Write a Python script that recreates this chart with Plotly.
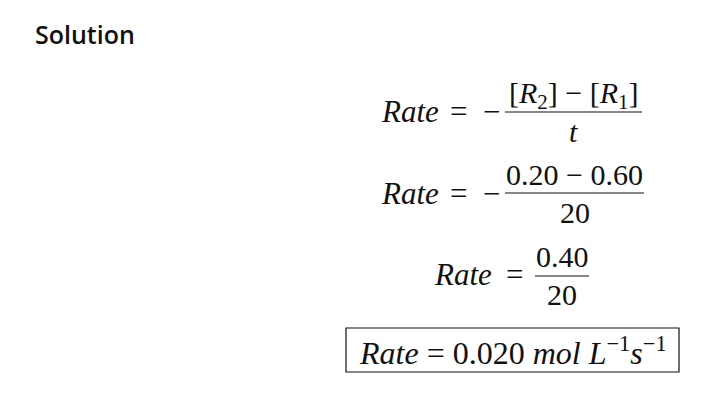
import plotly.graph_objects as go

# text of the worked solution, one entry per equation line
heading = "Solution"
lhs_labels = ["Rate", "Rate", "Rate"]
signs = ["−", "−", ""]
numerators = ["[<i>R</i><sub>2</sub>] − [<i>R</i><sub>1</sub>]", "0.20 − 0.60", "0.40"]
denominators = ["<i>t</i>", "20", "20"]
answer = "<i>Rate</i> = 0.020 <i>mol</i> <i>L</i><sup>−1</sup><i>s</i><sup>−1</sup>"

# layout of each line in page pixels (x from left, y from top)
rate_right = [441, 441, 494]
eq_x = [458, 458, 514]
sign_x = [491, 491, None]
frac_x = [(505, 642), (505, 644), (535, 589)]
frac_y = [112, 193, 276]
line_mid = [111, 193, 274]
num_mid = [95, 174, 256]
den_mid = [131, 212, 294]

MATH = "Liberation Serif"
INK = "#111111"
BG = "#ffffff"

fig = go.Figure()
fig.add_trace(go.Scatter(x=[8, 703], y=[8, 400], mode="markers",
                         marker=dict(opacity=0), hoverinfo="skip"))

ann = []
ann.append(dict(x=33, y=34, text=heading, xanchor="left", yanchor="middle",
                font=dict(family="Open Sans", size=25, color=INK, weight=600)))

for i in range(3):
    mid = line_mid[i]
    ann.append(dict(x=rate_right[i], y=mid, text="<i>" + lhs_labels[i] + "</i>",
                    xanchor="right", yanchor="middle",
                    font=dict(family=MATH, size=31, color=INK)))
    ann.append(dict(x=eq_x[i], y=mid, text="=", xanchor="center", yanchor="middle",
                    font=dict(family=MATH, size=31, color=INK)))
    if signs[i]:
        ann.append(dict(x=sign_x[i], y=mid, text=signs[i], xanchor="center",
                        yanchor="middle", font=dict(family=MATH, size=31, color=INK)))
    cx = (frac_x[i][0] + frac_x[i][1]) / 2
    ann.append(dict(x=cx, y=num_mid[i], text=numerators[i], xanchor="center",
                    yanchor="middle", font=dict(family=MATH, size=30, color=INK)))
    ann.append(dict(x=cx, y=den_mid[i], text=denominators[i], xanchor="center",
                    yanchor="middle", font=dict(family=MATH, size=30, color=INK)))
    fig.add_shape(type="line", x0=frac_x[i][0], x1=frac_x[i][1],
                  y0=frac_y[i], y1=frac_y[i], line=dict(color=INK, width=1.2))

ann.append(dict(x=513, y=351, text=answer, xanchor="center", yanchor="middle",
                font=dict(family=MATH, size=32, color=INK)))
fig.add_shape(type="rect", x0=346, x1=679, y0=328, y1=372,
              line=dict(color=INK, width=1.2))

for a in ann:
    a.update(xref="x", yref="y", showarrow=False)

# page has an 8px body margin, so the figure starts at page pixel 8
fig.update_layout(
    width=695, height=392,
    margin=dict(l=0, r=0, t=0, b=0),
    paper_bgcolor=BG,
    plot_bgcolor=BG,
    showlegend=False,
    annotations=ann,
    xaxis=dict(range=[8, 703], visible=False, fixedrange=True),
    yaxis=dict(range=[400, 8], visible=False, fixedrange=True),
)

fig.write_html("out.html", config={"displayModeBar": False})
